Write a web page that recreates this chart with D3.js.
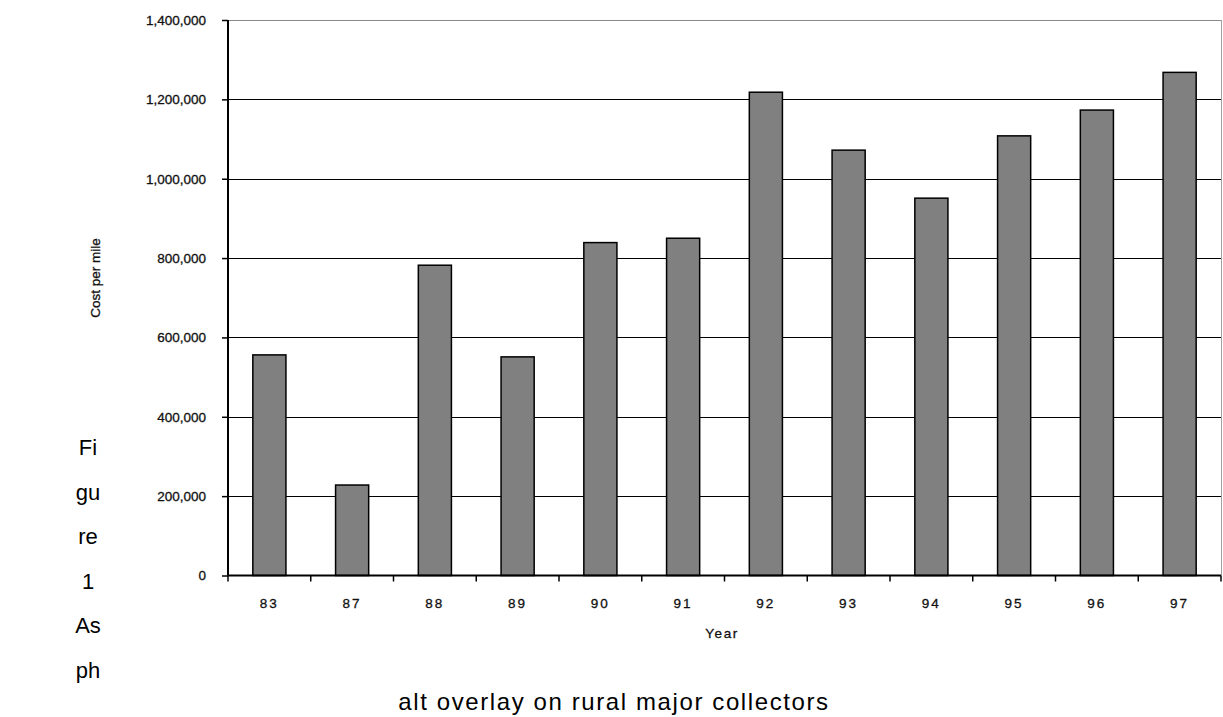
<!DOCTYPE html>
<html>
<head>
<meta charset="utf-8">
<script src="https://cdn.jsdelivr.net/npm/d3@7"></script>
<style>
  html, body { margin: 0; padding: 0; background: #fff; }
  svg { display: block; }
</style>
</head>
<body>
<svg id="chart" width="1223" height="717"></svg>
<script>
// Cost per mile by year
const years = ["83", "87", "88", "89", "90", "91", "92", "93", "94", "95", "96", "97"];
const costPerMile = [556000, 228000, 782000, 551000, 839000, 850000, 1218000, 1072000, 951000, 1108000, 1173000, 1268000];
const yTicks = [0, 200000, 400000, 600000, 800000, 1000000, 1200000, 1400000];
const captionSide = ["Fi", "gu", "re", "1", "As", "ph"];
const captionBottom = "alt overlay on rural major collectors";

const svg = d3.select("#chart");
const plot = { left: 228, right: 1221, top: 20, bottom: 575.5 };

const x = d3.scaleBand().domain(years).range([plot.left, plot.right]).paddingInner(0.6).paddingOuter(0.3);
const xEdges = d3.scaleLinear().domain([0, years.length]).range([plot.left, plot.right]);
const y = d3.scaleLinear().domain([0, 1400000]).range([plot.bottom, plot.top]);

const tickFont = "Liberation Sans, Arial, sans-serif";
const tickSize = 13.5;

// horizontal gridlines
svg.append("g").selectAll("line").data(yTicks.filter(d => d > 0)).join("line")
  .attr("x1", plot.left).attr("x2", plot.right)
  .attr("y1", d => Math.round(y(d)) + 0.5).attr("y2", d => Math.round(y(d)) + 0.5)
  .attr("stroke", d => d === 1400000 ? "#8a8a8a" : "#000").attr("stroke-width", 1.2);

// right border of the plot area
svg.append("line")
  .attr("x1", plot.right + 0.5).attr("x2", plot.right + 0.5)
  .attr("y1", plot.top).attr("y2", plot.bottom)
  .attr("stroke", "#a0a0a0").attr("stroke-width", 1);

// bars
svg.append("g").selectAll("rect").data(years).join("rect")
  .attr("x", d => x(d))
  .attr("width", x.bandwidth())
  .attr("y", (d, i) => y(costPerMile[i]))
  .attr("height", (d, i) => y(0) - y(costPerMile[i]))
  .attr("fill", "#808080")
  .attr("stroke", "#000")
  .attr("stroke-width", 1.5);

function styleTickText(sel, spacing) {
  sel.attr("font-family", tickFont).attr("font-size", tickSize)
    .attr("letter-spacing", spacing).attr("fill", "#111")
    .attr("stroke", "#111").attr("stroke-width", 0.3);
}

// y axis
const yAxis = d3.axisLeft(y).tickValues(yTicks).tickSize(6).tickPadding(16)
  .tickFormat(d => d3.format(",")(d));
const gy = svg.append("g").attr("transform", `translate(${plot.left},0)`).call(yAxis);
gy.select(".domain").attr("stroke", "#000").attr("stroke-width", 2).attr("d", `M0,${plot.top}V${plot.bottom}`);
gy.selectAll(".tick line").attr("stroke", "#000").attr("stroke-width", 1.5);
styleTickText(gy.selectAll(".tick text"), 0);

// x axis
const xAxis = d3.axisBottom(x).tickSize(0).tickPadding(23);
const gx = svg.append("g").attr("transform", `translate(0,${plot.bottom})`).call(xAxis);
gx.select(".domain").attr("stroke", "#000").attr("stroke-width", 2).attr("d", `M${plot.left},0H${plot.right}`);
styleTickText(gx.selectAll(".tick text"), 2);
// category boundary tick marks
gx.append("g").selectAll("line").data(d3.range(0, years.length + 1)).join("line")
  .attr("x1", d => xEdges(d)).attr("x2", d => xEdges(d))
  .attr("y1", 0).attr("y2", 6)
  .attr("stroke", "#000").attr("stroke-width", 1.5);

// axis titles
styleTickText(svg.append("text")
  .attr("x", 722).attr("y", 638)
  .attr("text-anchor", "middle")
  .text("Year"), 1.5);

styleTickText(svg.append("text")
  .attr("transform", "translate(100,278) rotate(-90)")
  .attr("text-anchor", "middle")
  .text("Cost per mile"), 0);

// caption split down the left margin
svg.append("g").selectAll("text").data(captionSide).join("text")
  .attr("x", 88).attr("y", (d, i) => 455 + i * 44.6)
  .attr("text-anchor", "middle")
  .attr("font-family", "Liberation Sans, Arial, sans-serif").attr("font-size", 22)
  .attr("fill", "#000")
  .text(d => d);

svg.append("text")
  .attr("x", 614).attr("y", 710)
  .attr("text-anchor", "middle")
  .attr("font-family", "Liberation Sans, Arial, sans-serif").attr("font-size", 24)
  .attr("letter-spacing", 1.6)
  .attr("fill", "#000")
  .text(captionBottom);
</script>
</body>
</html>
